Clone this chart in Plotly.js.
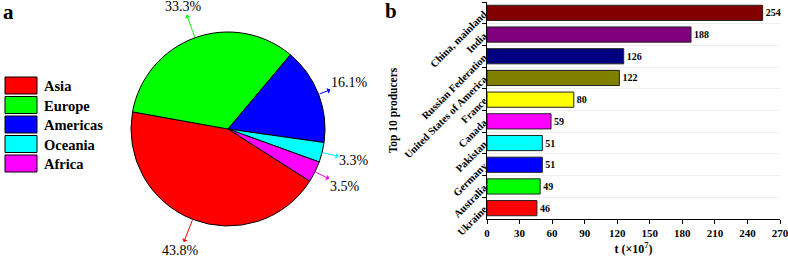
<!DOCTYPE html>
<html>
<head>
<meta charset="utf-8">
<script src="https://cdn.plot.ly/plotly-3.0.1.min.js"></script>
<style>html,body{margin:0;padding:0;background:#fff;}#chart{width:788px;height:258px;}</style>
</head>
<body>
<div id="chart"></div>
<script>
// ---- data ----
const regions = ["Asia", "Europe", "Americas", "Oceania", "Africa"];
const regionShares = [43.8, 33.3, 16.1, 3.3, 3.5];
const regionColors = ["#ff0000", "#00ff00", "#0000ff", "#00ffff", "#ff00ff"];

const producers = ["China, mainland", "India", "Russian Federation", "United States of America",
  "France", "Canada", "Pakistan", "Germany", "Australia", "Ukraine"];
const production = [254, 188, 126, 122, 80, 59, 51, 51, 49, 46];
const producerColors = ["#800000", "#800080", "#000080", "#808000", "#ffff00",
  "#ff00ff", "#00ffff", "#0000ff", "#00ff00", "#ff0000"];
const xTicks = [0, 30, 60, 90, 120, 150, 180, 210, 240, 270];

// ---- layout constants ----
const W = 788, H = 258;
const serif = "Liberation Serif";
const pieCx = 228, pieCy = 129, pieR = 97;
const pieRotation = 122.5;
const labelRadius = 130;
const px = x => x / W;
const py = y => 1 - y / H;

const pie = {
  type: "pie",
  labels: regions,
  values: regionShares,
  sort: false,
  direction: "clockwise",
  rotation: pieRotation,
  marker: {colors: regionColors, line: {color: "#000", width: 1}},
  textinfo: "none",
  hoverinfo: "label+percent",
  showlegend: false,
  domain: {x: [px(pieCx - pieR), px(pieCx + pieR)], y: [py(pieCy + pieR), py(pieCy - pieR)]}
};

const bar = {
  type: "bar",
  orientation: "h",
  y: producers,
  x: production,
  width: 0.7,
  marker: {color: producerColors, line: {color: "#222", width: 1}},
  text: production.map(String),
  textposition: "outside",
  textfont: {family: serif, size: 10, color: "#000", weight: "bold"},
  cliponaxis: false,
  showlegend: false,
  xaxis: "x",
  yaxis: "y"
};

// pie percentage labels with arrows, computed from the data
const annotations = [];
const total = regionShares.reduce((a, b) => a + b, 0);
let start = pieRotation;
regionShares.forEach((v, i) => {
  const span = v / total * 360;
  const mid = (start + span / 2) * Math.PI / 180;
  start += span;
  const s = Math.sin(mid), c = Math.cos(mid);
  const pt = r => [pieCx + r * s, pieCy - r * c];
  const edge = pt(pieR + 1), lab = pt(labelRadius);
  annotations.push({
    xref: "paper", yref: "paper", x: px(edge[0]), y: py(edge[1]),
    ax: lab[0] - edge[0], ay: lab[1] - edge[1], axref: "pixel", ayref: "pixel",
    text: v.toFixed(1) + "%", showarrow: true, arrowside: "start",
    arrowhead: 2, arrowsize: 1, arrowwidth: 1,
    arrowcolor: regionColors[i], standoff: 0, startstandoff: 0,
    borderpad: 0,
    font: {family: serif, size: 14, color: "#000"}
  });
});

// legend for the pie
const shapes = [];
regions.forEach((name, i) => {
  const top = 77 + i * 19.5;
  shapes.push({
    type: "rect", xref: "paper", yref: "paper",
    x0: px(5), x1: px(37), y0: py(top + 17), y1: py(top),
    fillcolor: regionColors[i], line: {color: "#000", width: 1}
  });
  annotations.push({
    xref: "paper", yref: "paper", x: px(42), y: py(top + 9),
    xanchor: "left", yanchor: "middle", showarrow: false,
    text: "<b>" + name + "</b>", font: {family: serif, size: 14.5, color: "#000"}
  });
});

// panel letters
annotations.push({xref: "paper", yref: "paper", x: px(1), y: py(12), xanchor: "left", yanchor: "middle",
  showarrow: false, text: "<b>a</b>", font: {family: serif, size: 21, color: "#000"}});
annotations.push({xref: "paper", yref: "paper", x: px(383), y: py(11), xanchor: "left", yanchor: "middle",
  showarrow: false, text: "<b>b</b>", font: {family: serif, size: 21, color: "#000"}});

const layout = {
  width: W, height: H,
  margin: {l: 0, r: 0, t: 0, b: 0},
  paper_bgcolor: "#fff", plot_bgcolor: "#fff",
  font: {family: serif, color: "#000"},
  xaxis: {
    domain: [px(487), px(780)],
    range: [0, 270],
    tickvals: xTicks,
    ticktext: xTicks.map(String),
    ticklabeloverflow: "allow",
    ticks: "outside", ticklen: 4, tickcolor: "#000",
    showline: true, linecolor: "#000", linewidth: 1,
    showgrid: false, zeroline: false,
    tickfont: {family: serif, size: 11, weight: "bold", color: "#000"},
    title: {text: "<b>t (×10<sup>7</sup>)</b>", font: {family: serif, size: 12, color: "#000"}, standoff: 6},
    fixedrange: true
  },
  yaxis: {
    domain: [py(219), py(2)],
    type: "category",
    autorange: "reversed",
    tickson: "boundaries",
    ticks: "outside", ticklen: 4, tickcolor: "#000",
    tickangle: -45,
    showline: true, linecolor: "#000", linewidth: 1,
    showgrid: true, gridcolor: "#efefef", gridwidth: 1,
    tickfont: {family: serif, size: 10.5, weight: "bold", color: "#000"},
    title: {text: "<b>Top 10 producers</b>", font: {family: serif, size: 11.5, color: "#000"}},
    automargin: false,
    fixedrange: true
  },
  annotations: annotations,
  shapes: shapes
};

Plotly.newPlot("chart", [pie, bar], layout, {displayModeBar: false, staticPlot: true});
</script>
</body>
</html>
